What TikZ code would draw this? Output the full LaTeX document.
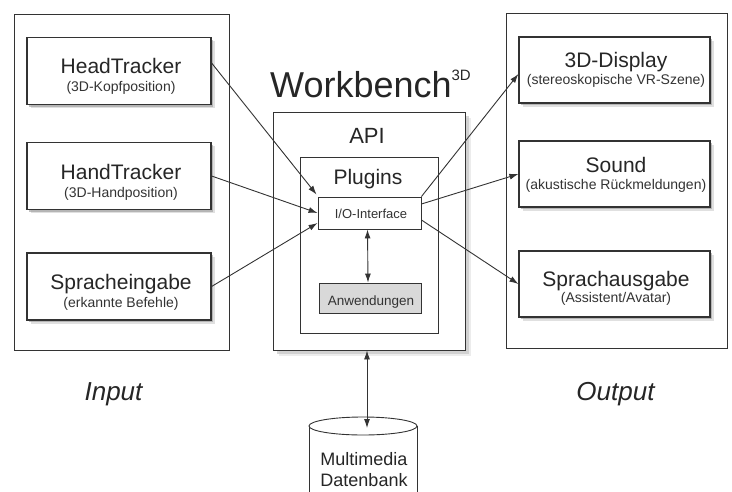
\documentclass[tikz,border=0pt]{standalone}
\usepackage{fontspec}
\setmainfont{Liberation Sans}
\usetikzlibrary{arrows.meta,shadows}
\begin{document}
\begin{tikzpicture}[x=1pt,y=-1pt,
  frame/.style={draw=black!80,line width=0.9pt,fill=white,inner sep=0pt},
  outerbox/.style={frame},
  devbox/.style={frame,line width=1.2pt,minimum width=184pt,minimum height=67pt,
    drop shadow={shadow xshift=3.5pt,shadow yshift=-3.5pt,fill=black!20,opacity=.6},
    drop shadow={shadow xshift=2pt,shadow yshift=-2pt,fill=black!40,opacity=.6}},
  outbox/.style={devbox,minimum width=191pt,minimum height=66pt},
  apibox/.style={frame,
    drop shadow={shadow xshift=6pt,shadow yshift=-6pt,fill=black!12,opacity=.6},
    drop shadow={shadow xshift=3.5pt,shadow yshift=-3.5pt,fill=black!25,opacity=.6}},
  ttl/.style={font=\fontsize{21}{21}\selectfont,text=black!85,anchor=base,inner sep=0pt},
  subt/.style={font=\fontsize{14}{14}\selectfont,text=black!80,anchor=base,inner sep=0pt},
  small/.style={font=\fontsize{13}{13}\selectfont,text=black!80,anchor=base,inner sep=0pt},
  big/.style={font=\fontsize{22}{22}\selectfont,text=black!85,anchor=base,inner sep=0pt},
  side/.style={font=\fontsize{26}{26}\selectfont\itshape,text=black!85,anchor=base,inner sep=0pt},
  conn/.style={draw=black!80,line width=0.9pt,-{Latex[length=9pt,width=6pt]}},
  dconn/.style={draw=black!80,line width=0.9pt,{Latex[length=9pt,width=6pt]}-{Latex[length=9pt,width=6pt]}}
]
\useasboundingbox (0,0) rectangle (732,491);
\fill[white] (0,0) rectangle (732,491);

% outer boxes
\node[outerbox,minimum width=215pt,minimum height=336pt] (inbox) at (121.5,182) {};
\node[outerbox,minimum width=221pt,minimum height=335pt] (outbx) at (616.5,180.5) {};

% input devices
\node[devbox] (ht) at (119,71) {};
\node[ttl] (htT) at (121,73) {HeadTracker};
\node[subt] (htS) at (121,91) {(3D-Kopfposition)};

\node[devbox] (hd) at (119,176) {};
\node[ttl] (hdT) at (121,179) {HandTracker};
\node[subt] (hdS) at (121,197) {(3D-Handposition)};

\node[devbox] (sp) at (119,286.5) {};
\node[ttl] (spT) at (121,289) {Spracheingabe};
\node[subt] (spS) at (121,307) {(erkannte Befehle)};

% output devices
\node[outbox] (disp) at (614.5,70) {};
\node[ttl] (dispT) at (616,67) {3D-Display};
\node[subt] (dispS) at (616,84) {(stereoskopische VR-Szene)};

\node[outbox] (snd) at (614.5,174) {};
\node[ttl] (sndT) at (616,172) {Sound};
\node[subt] (sndS) at (616,189) {(akustische Rückmeldungen)};

\node[outbox] (sa) at (614.5,284) {};
\node[ttl] (saT) at (616,286) {Sprachausgabe};
\node[subt] (saS) at (616,302) {(Assistent/Avatar)};

% workbench
\node[anchor=base west,inner sep=0pt,font=\fontsize{36}{36}\selectfont,text=black!85] (wb) at (270,97)
  {Workbench\raisebox{17pt}{\fontsize{15}{15}\selectfont 3D}};
\node[apibox,minimum width=192pt,minimum height=238pt] (api) at (369,231) {};
\node[big] (apiT) at (367,143) {API};
\node[frame,minimum width=138pt,minimum height=176pt] (plg) at (369,245) {};
\node[big,font=\fontsize{21}{21}\selectfont] (plgT) at (368,184) {Plugins};
\node[frame,minimum width=103pt,minimum height=32pt] (io) at (369.5,213) {};
\node[small] (ioT) at (371,218) {I/O-Interface};
\node[frame,fill=black!15,minimum width=102pt,minimum height=30pt] (anw) at (370,298) {};
\node[small,font=\fontsize{13.5}{13.5}\selectfont] (anwT) at (371,305) {Anwendungen};

% side labels
\node[side] (inL) at (113.5,400) {Input};
\node[side] (outL) at (615.5,400) {Output};

% database
\fill[white] (309,426) rectangle (417,495);
\draw[draw=black!80,line width=0.9pt] (309,426) -- (309,496) (417,426) -- (417,496);
\draw[draw=black!80,line width=0.9pt,fill=white] (363,426) ellipse [x radius=54pt,y radius=9pt];
\coordinate (dbtop) at (367,428);
\node[anchor=base,inner sep=0pt,font=\fontsize{18}{18}\selectfont,text=black!85] (db1) at (364,465) {Multimedia};
\node[anchor=base,inner sep=0pt,font=\fontsize{18}{18}\selectfont,text=black!85] (db2) at (364,486) {Datenbank};

% connectors
\draw[conn] ([yshift=8pt]ht.east) -- ([xshift=-1pt,yshift=2pt]io.north west);
\draw[conn] (hd.east) -- (io.west);
\draw[conn] (sp.east) -- ([yshift=-10pt]io.west);
\draw[conn] (io.north east) -- ([yshift=-4pt]disp.west);
\draw[conn] ([yshift=9pt]io.east) -- (snd.west);
\draw[conn] ([yshift=-7pt]io.east) -- (sa.west);
\draw[dconn] ([xshift=-2pt]io.south) -- ([xshift=-2pt]anw.north);
\draw[dconn] (api.south -| dbtop) -- (dbtop);
\end{tikzpicture}
\end{document}
